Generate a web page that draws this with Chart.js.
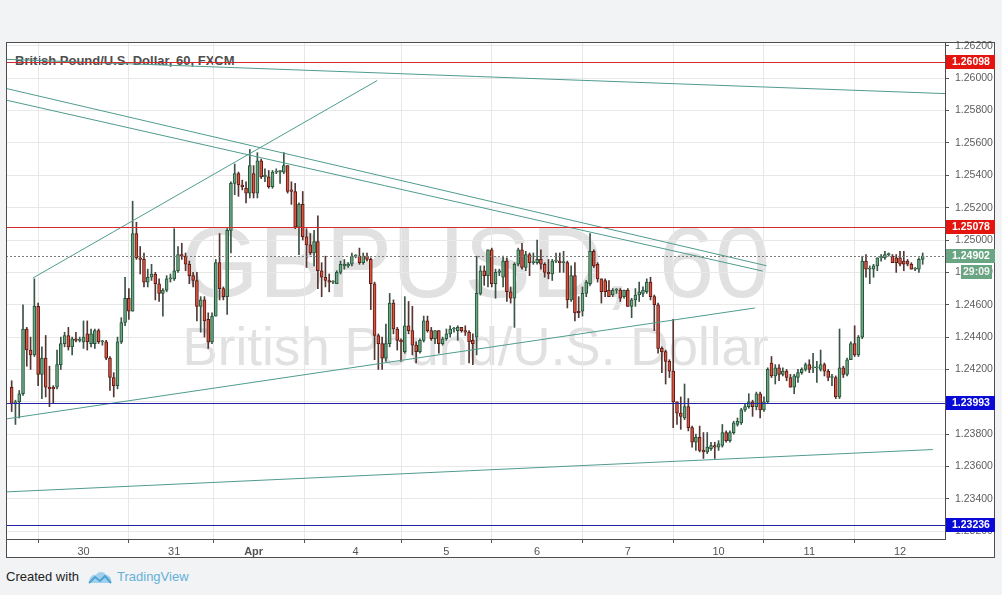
<!DOCTYPE html>
<html>
<head>
<meta charset="utf-8">
<title>GBPUSD, 60</title>
<script src="https://cdn.jsdelivr.net/npm/chart.js@4.4.0/dist/chart.umd.min.js"></script>
<style>
html, body { margin: 0; padding: 0; background: #f1f3f5; }
#wrap { position: relative; width: 1002px; height: 595px; overflow: hidden; font-family: "Liberation Sans", Arial, sans-serif; }
#box { position: absolute; left: 6px; top: 42px; width: 989px; height: 516px; background: #fff; }
.wm { position: absolute; left: 6px; width: 939px; text-align: center; color: #e1e1e1; white-space: nowrap; line-height: 1; }
#wm1 { top: 212px; font-size: 100px; }
#wm2 { top: 320px; font-size: 53px; }
#title { position: absolute; left: 15px; top: 54px; font-size: 13px; line-height: 13px; font-weight: bold; color: #4e4e4e; white-space: nowrap; }
#credit { position: absolute; left: 6px; top: 569px; font-size: 13px; line-height: 16px; color: #222; white-space: nowrap; }
#credit svg { position: absolute; left: 82px; top: 1px; }
#credit .tv { position: absolute; left: 111px; top: 0; color: #66b1d8; }
canvas { position: absolute; left: 0; top: 0; }
</style>
</head>
<body>
<div id="wrap">
  <div id="box"></div>
  <div class="wm" id="wm1">GBPUSD, 60</div>
  <div class="wm" id="wm2">British Pound/U.S. Dollar</div>
  <div id="title">British Pound/U.S. Dollar, 60, FXCM</div>
  <div id="credit">Created with
    <svg width="24" height="14" viewBox="0 0 24 14">
      <path d="M1 13 C1 7 5 4 8 5 C10 1 16 1 18 5 C22 5 24 9 23 13 Z" fill="#9fd0ec"/>
      <path d="M1 13 L7 7 L12 11 L17 6 L23 13" fill="none" stroke="#4fa3d3" stroke-width="2"/>
    </svg>
    <span class="tv">TradingView</span>
  </div>
  <canvas id="c" width="1002" height="595"></canvas>
</div>
<script>
// GBPUSD hourly candles, 29 Mar - 12 Apr (one value per bar)
const opens = [
  1.2409, 1.2399, 1.2400, 1.2405, 1.2445, 1.2432, 1.2429, 1.2459, 1.2417, 1.2427, 1.2409, 1.2409,
  1.2409, 1.2423, 1.2436, 1.2441, 1.2434, 1.2439, 1.2438, 1.2437, 1.2442, 1.2436, 1.2436, 1.2444,
  1.2437, 1.2437, 1.2427, 1.2415, 1.2410, 1.2437, 1.2449, 1.2464, 1.2456, 1.2504, 1.2489, 1.2488,
  1.2474, 1.2477, 1.2479, 1.2473, 1.2467, 1.2469, 1.2476, 1.2476, 1.2481, 1.2491, 1.2490, 1.2485,
  1.2478, 1.2475, 1.2459, 1.2463, 1.2451, 1.2437, 1.2453, 1.2486, 1.2470, 1.2465, 1.2506, 1.2535,
  1.2541, 1.2534, 1.2532, 1.2529, 1.2541, 1.2529, 1.2549, 1.2539, 1.2539, 1.2533, 1.2542, 1.2542,
  1.2542, 1.2546, 1.2531, 1.2530, 1.2508, 1.2522, 1.2502, 1.2497, 1.2492, 1.2499, 1.2481, 1.2477,
  1.2475, 1.2474, 1.2473, 1.2480, 1.2484, 1.2484, 1.2485, 1.2490, 1.2490, 1.2486, 1.2490, 1.2488,
  1.2473, 1.2441, 1.2436, 1.2427, 1.2436, 1.2461, 1.2445, 1.2438, 1.2431, 1.2447, 1.2444, 1.2435,
  1.2431, 1.2438, 1.2450, 1.2444, 1.2439, 1.2444, 1.2436, 1.2439, 1.2442, 1.2445, 1.2444, 1.2446,
  1.2444, 1.2443, 1.2438, 1.2440, 1.2467, 1.2481, 1.2478, 1.2494, 1.2473, 1.2480, 1.2477, 1.2487,
  1.2468, 1.2464, 1.2485, 1.2494, 1.2483, 1.2491, 1.2486, 1.2486, 1.2488, 1.2485, 1.2480, 1.2479,
  1.2487, 1.2487, 1.2486, 1.2486, 1.2463, 1.2478, 1.2456, 1.2456, 1.2467, 1.2473, 1.2493, 1.2485,
  1.2476, 1.2475, 1.2469, 1.2466, 1.2469, 1.2469, 1.2465, 1.2469, 1.2459, 1.2463, 1.2466, 1.2467,
  1.2468, 1.2474, 1.2465, 1.2460, 1.2433, 1.2431, 1.2425, 1.2419, 1.2400, 1.2393, 1.2390, 1.2397,
  1.2384, 1.2375, 1.2378, 1.2370, 1.2369, 1.2371, 1.2373, 1.2372, 1.2373, 1.2381, 1.2376, 1.2381,
  1.2386, 1.2387, 1.2395, 1.2397, 1.2400, 1.2397, 1.2405, 1.2395, 1.2400, 1.2424, 1.2416, 1.2421,
  1.2417, 1.2419, 1.2415, 1.2409, 1.2415, 1.2418, 1.2420, 1.2423, 1.2421, 1.2421, 1.2420, 1.2423,
  1.2419, 1.2415, 1.2415, 1.2403, 1.2421, 1.2417, 1.2426, 1.2436, 1.2429, 1.2440, 1.2487, 1.2482,
  1.2482, 1.2484, 1.2489, 1.2489, 1.2491, 1.2490, 1.2489, 1.2489, 1.2487, 1.2487, 1.2485, 1.2482,
  1.2482, 1.2488
];
const highs = [
  1.2413, 1.2401, 1.2407, 1.2460, 1.2446, 1.2440, 1.2476, 1.2461, 1.2434, 1.2441, 1.2422, 1.2410,
  1.2432, 1.2440, 1.2443, 1.2446, 1.2440, 1.2443, 1.2440, 1.2450, 1.2450, 1.2445, 1.2445, 1.2445,
  1.2438, 1.2438, 1.2428, 1.2418, 1.2440, 1.2452, 1.2477, 1.2470, 1.2524, 1.2511, 1.2496, 1.2492,
  1.2482, 1.2485, 1.2480, 1.2476, 1.2470, 1.2478, 1.2479, 1.2507, 1.2496, 1.2498, 1.2492, 1.2487,
  1.2480, 1.2480, 1.2465, 1.2465, 1.2455, 1.2455, 1.2488, 1.2504, 1.2471, 1.2507, 1.2536, 1.2547,
  1.2542, 1.2537, 1.2536, 1.2556, 1.2546, 1.2554, 1.2550, 1.2544, 1.2543, 1.2543, 1.2544, 1.2543,
  1.2554, 1.2546, 1.2536, 1.2535, 1.2523, 1.2530, 1.2507, 1.2504, 1.2506, 1.2515, 1.2486, 1.2490,
  1.2479, 1.2475, 1.2481, 1.2487, 1.2488, 1.2486, 1.2492, 1.2491, 1.2495, 1.2492, 1.2492, 1.2489,
  1.2474, 1.2442, 1.2440, 1.2448, 1.2467, 1.2463, 1.2446, 1.2439, 1.2465, 1.2462, 1.2459, 1.2437,
  1.2439, 1.2453, 1.2453, 1.2446, 1.2444, 1.2444, 1.2440, 1.2445, 1.2447, 1.2446, 1.2447, 1.2446,
  1.2447, 1.2444, 1.2442, 1.2490, 1.2484, 1.2484, 1.2494, 1.2495, 1.2482, 1.2482, 1.2490, 1.2489,
  1.2471, 1.2486, 1.2495, 1.2498, 1.2493, 1.2492, 1.2492, 1.2500, 1.2494, 1.2486, 1.2488, 1.2488,
  1.2492, 1.2492, 1.2493, 1.2487, 1.2484, 1.2486, 1.2465, 1.2471, 1.2475, 1.2504, 1.2494, 1.2486,
  1.2476, 1.2476, 1.2475, 1.2470, 1.2470, 1.2470, 1.2469, 1.2470, 1.2464, 1.2470, 1.2474, 1.2471,
  1.2476, 1.2477, 1.2466, 1.2461, 1.2434, 1.2432, 1.2426, 1.2451, 1.2400, 1.2403, 1.2411, 1.2402,
  1.2385, 1.2380, 1.2385, 1.2381, 1.2381, 1.2375, 1.2375, 1.2376, 1.2386, 1.2382, 1.2382, 1.2388,
  1.2390, 1.2396, 1.2399, 1.2405, 1.2401, 1.2406, 1.2406, 1.2403, 1.2421, 1.2428, 1.2423, 1.2423,
  1.2421, 1.2420, 1.2417, 1.2417, 1.2420, 1.2421, 1.2424, 1.2426, 1.2430, 1.2425, 1.2432, 1.2424,
  1.2420, 1.2417, 1.2416, 1.2445, 1.2422, 1.2427, 1.2437, 1.2447, 1.2441, 1.2490, 1.2491, 1.2484,
  1.2485, 1.2489, 1.2491, 1.2493, 1.2492, 1.2491, 1.2491, 1.2493, 1.2493, 1.2488, 1.2486, 1.2483,
  1.2489, 1.2492
];
const lows = [
  1.2394, 1.2386, 1.2390, 1.2404, 1.2422, 1.2420, 1.2428, 1.2410, 1.2402, 1.2403, 1.2397, 1.2399,
  1.2408, 1.2420, 1.2434, 1.2432, 1.2429, 1.2437, 1.2437, 1.2433, 1.2432, 1.2434, 1.2433, 1.2436,
  1.2435, 1.2426, 1.2407, 1.2403, 1.2408, 1.2436, 1.2447, 1.2451, 1.2456, 1.2488, 1.2479, 1.2471,
  1.2471, 1.2475, 1.2463, 1.2462, 1.2453, 1.2468, 1.2474, 1.2475, 1.2480, 1.2488, 1.2481, 1.2473,
  1.2471, 1.2450, 1.2443, 1.2440, 1.2433, 1.2436, 1.2453, 1.2463, 1.2463, 1.2454, 1.2492, 1.2528,
  1.2527, 1.2531, 1.2523, 1.2526, 1.2526, 1.2526, 1.2538, 1.2536, 1.2532, 1.2532, 1.2541, 1.2535,
  1.2541, 1.2529, 1.2522, 1.2507, 1.2491, 1.2500, 1.2483, 1.2491, 1.2484, 1.2470, 1.2465, 1.2471,
  1.2468, 1.2473, 1.2473, 1.2479, 1.2482, 1.2483, 1.2484, 1.2489, 1.2485, 1.2485, 1.2487, 1.2457,
  1.2426, 1.2420, 1.2420, 1.2425, 1.2434, 1.2442, 1.2432, 1.2425, 1.2430, 1.2442, 1.2429, 1.2424,
  1.2430, 1.2437, 1.2443, 1.2438, 1.2436, 1.2430, 1.2435, 1.2438, 1.2440, 1.2443, 1.2438, 1.2443,
  1.2441, 1.2424, 1.2423, 1.2429, 1.2466, 1.2472, 1.2471, 1.2471, 1.2464, 1.2478, 1.2471, 1.2462,
  1.2461, 1.2446, 1.2484, 1.2482, 1.2481, 1.2478, 1.2485, 1.2485, 1.2482, 1.2477, 1.2476, 1.2475,
  1.2486, 1.2480, 1.2480, 1.2458, 1.2462, 1.2450, 1.2452, 1.2453, 1.2465, 1.2472, 1.2483, 1.2474,
  1.2461, 1.2465, 1.2465, 1.2465, 1.2467, 1.2462, 1.2464, 1.2459, 1.2452, 1.2459, 1.2462, 1.2465,
  1.2467, 1.2463, 1.2444, 1.2430, 1.2418, 1.2411, 1.2415, 1.2384, 1.2386, 1.2383, 1.2389, 1.2382,
  1.2372, 1.2370, 1.2369, 1.2365, 1.2368, 1.2370, 1.2365, 1.2370, 1.2372, 1.2375, 1.2375, 1.2380,
  1.2385, 1.2386, 1.2394, 1.2396, 1.2391, 1.2395, 1.2390, 1.2394, 1.2399, 1.2415, 1.2411, 1.2413,
  1.2416, 1.2413, 1.2409, 1.2405, 1.2412, 1.2417, 1.2419, 1.2418, 1.2418, 1.2412, 1.2419, 1.2416,
  1.2413, 1.2410, 1.2402, 1.2402, 1.2415, 1.2416, 1.2426, 1.2428, 1.2428, 1.2439, 1.2477, 1.2473,
  1.2477, 1.2481, 1.2487, 1.2488, 1.2490, 1.2486, 1.2480, 1.2484, 1.2481, 1.2484, 1.2482, 1.2481,
  1.2480, 1.2485
];
const closes = [
  1.2399, 1.2400, 1.2405, 1.2445, 1.2432, 1.2429, 1.2459, 1.2417, 1.2427, 1.2409, 1.2408, 1.2408,
  1.2423, 1.2436, 1.2441, 1.2434, 1.2439, 1.2438, 1.2438, 1.2440, 1.2437, 1.2442, 1.2444, 1.2437,
  1.2437, 1.2427, 1.2415, 1.2410, 1.2437, 1.2449, 1.2464, 1.2456, 1.2504, 1.2489, 1.2488, 1.2474,
  1.2477, 1.2479, 1.2473, 1.2467, 1.2469, 1.2476, 1.2476, 1.2481, 1.2491, 1.2490, 1.2485, 1.2478,
  1.2475, 1.2459, 1.2463, 1.2450, 1.2437, 1.2453, 1.2486, 1.2470, 1.2465, 1.2506, 1.2535, 1.2541,
  1.2534, 1.2533, 1.2529, 1.2546, 1.2529, 1.2549, 1.2539, 1.2540, 1.2533, 1.2542, 1.2542, 1.2543,
  1.2546, 1.2530, 1.2530, 1.2508, 1.2522, 1.2502, 1.2497, 1.2492, 1.2499, 1.2481, 1.2477, 1.2475,
  1.2474, 1.2474, 1.2480, 1.2485, 1.2485, 1.2485, 1.2490, 1.2490, 1.2486, 1.2490, 1.2488, 1.2473,
  1.2441, 1.2436, 1.2427, 1.2436, 1.2461, 1.2445, 1.2438, 1.2437, 1.2447, 1.2444, 1.2435, 1.2431,
  1.2438, 1.2450, 1.2444, 1.2439, 1.2444, 1.2436, 1.2439, 1.2442, 1.2445, 1.2445, 1.2446, 1.2444,
  1.2443, 1.2437, 1.2436, 1.2467, 1.2481, 1.2478, 1.2494, 1.2473, 1.2480, 1.2481, 1.2487, 1.2468,
  1.2464, 1.2485, 1.2494, 1.2483, 1.2491, 1.2486, 1.2486, 1.2488, 1.2485, 1.2480, 1.2479, 1.2487,
  1.2487, 1.2486, 1.2486, 1.2463, 1.2478, 1.2455, 1.2455, 1.2467, 1.2474, 1.2493, 1.2484, 1.2476,
  1.2468, 1.2468, 1.2465, 1.2469, 1.2469, 1.2464, 1.2469, 1.2459, 1.2463, 1.2466, 1.2468, 1.2469,
  1.2474, 1.2465, 1.2460, 1.2433, 1.2431, 1.2425, 1.2419, 1.2400, 1.2393, 1.2391, 1.2397, 1.2384,
  1.2375, 1.2378, 1.2370, 1.2369, 1.2372, 1.2373, 1.2372, 1.2374, 1.2381, 1.2376, 1.2381, 1.2387,
  1.2388, 1.2395, 1.2397, 1.2400, 1.2397, 1.2405, 1.2395, 1.2400, 1.2420, 1.2416, 1.2421, 1.2417,
  1.2419, 1.2415, 1.2409, 1.2416, 1.2418, 1.2420, 1.2423, 1.2420, 1.2421, 1.2421, 1.2423, 1.2419,
  1.2415, 1.2415, 1.2403, 1.2421, 1.2417, 1.2426, 1.2436, 1.2429, 1.2440, 1.2487, 1.2482, 1.2482,
  1.2484, 1.2489, 1.2489, 1.2491, 1.2491, 1.2486, 1.2486, 1.2485, 1.2485, 1.2485, 1.2482, 1.2482,
  1.2488, 1.2490
];

// bottom axis: bar index where each day starts, and its label
const dayIndex  = [19, 43, 64, 91, 115, 139, 163, 187, 211, 235];
const dayLabels = ['30', '31', 'Apr', '4', '5', '6', '7', '10', '11', '12'];

// right axis
const priceTicks = [1.232, 1.234, 1.236, 1.238, 1.240, 1.242, 1.244, 1.246, 1.248, 1.250,
                    1.252, 1.254, 1.256, 1.258, 1.260, 1.262];

// drawn levels
const resistLevels = [1.26098, 1.25078];
const supportLevels = [1.23993, 1.23236];
const lastPrice = 1.24902;
const countdown = '29:09';

// trend lines: [bar index, price, bar index, price]
const trendLines = [
  [-1.5, 1.26117, 246.9, 1.25905],
  [-1.5, 1.25937, 199.7, 1.24841],
  [-1.5, 1.25865, 198.7, 1.24808],
  [5.6, 1.24765, 96.7, 1.25986],
  [-1.5, 1.23894, 196.6, 1.24580],
  [-1.5, 1.23443, 243.7, 1.23705]
];

const X_MIN = -1.5, X_MAX = 246.9;
const Y_MIN = 1.23152, Y_MAX = 1.26224;
const FONT = '"Liberation Sans", Arial, sans-serif';

const UP = '#6ba583', DOWN = '#d75442', UP_BORDER = '#225437', DOWN_BORDER = '#5b1a13';
const idx = opens.map((_, i) => i);
const isUp = i => closes[i] >= opens[i];

const datasets = [
  // candle bodies
  {
    data: idx.map(i => ({ x: i, y: [Math.min(opens[i], closes[i]), Math.max(opens[i], closes[i])] })),
    backgroundColor: idx.map(i => isUp(i) ? UP : DOWN),
    borderColor: idx.map(i => isUp(i) ? UP_BORDER : DOWN_BORDER),
    borderWidth: 1,
    borderSkipped: false,
    barThickness: 3,
    minBarLength: 1,
    grouped: false,
    order: 1
  },
  // wicks
  {
    data: idx.map(i => ({ x: i, y: [lows[i], highs[i]] })),
    backgroundColor: idx.map(i => isUp(i) ? '#3a5446' : '#553632'),
    barThickness: 1,
    grouped: false,
    order: 2
  }
];

trendLines.forEach(t => datasets.push({
  type: 'line',
  data: [{ x: t[0], y: t[1] }, { x: t[2], y: t[3] }],
  borderColor: '#4f9c8f',
  borderWidth: 1,
  pointRadius: 0,
  fill: false,
  order: 0
}));

// horizontal levels drawn crisp on whole pixels, above the candles
const levelLines = {
  id: 'levelLines',
  afterDatasetsDraw(chart) {
    const g = chart.ctx, y = chart.scales.y, a = chart.chartArea;
    const line = (v, color) => {
      const py = Math.round(y.getPixelForValue(v));
      g.save();
      g.fillStyle = color;
      g.fillRect(a.left, py, a.right - a.left, 1);
      g.restore();
    };
    resistLevels.forEach(v => line(v, '#d42a2e'));
    supportLevels.forEach(v => line(v, '#2323a8'));

    // dotted last-price line
    const py = Math.round(y.getPixelForValue(lastPrice)) + 0.5;
    g.save();
    g.strokeStyle = '#7a7a7a';
    g.lineWidth = 1;
    g.setLineDash([2, 2]);
    g.beginPath();
    g.moveTo(a.left, py);
    g.lineTo(a.right, py);
    g.stroke();
    g.restore();
  }
};

// price tags on the right axis + outer frame
const axisTags = {
  id: 'axisTags',
  afterDraw(chart) {
    const g = chart.ctx;
    const y = chart.scales.y;
    g.save();
    g.strokeStyle = '#4d4d4d';
    g.lineWidth = 1;
    g.strokeRect(6.5, 42.5, 988, 515);

    const tag = (v, bg, text) => {
      const py = Math.round(y.getPixelForValue(v));
      g.fillStyle = bg;
      g.fillRect(946, py - 7, 49, 14);
      g.fillStyle = '#fff';
      g.font = 'bold 10.5px ' + FONT;
      g.textBaseline = 'middle';
      g.fillText(text, 952, py + 0.5);
      return py;
    };
    resistLevels.forEach(v => tag(v, '#e4150f', v.toFixed(5)));
    supportLevels.forEach(v => tag(v, '#0a0ad6', v.toFixed(5)));
    const py = tag(lastPrice, '#6aa583', lastPrice.toFixed(5));
    g.fillStyle = '#6aa583';
    g.fillRect(961, py + 9, 31, 14);
    g.fillStyle = '#f2f2f2';
    g.font = 'bold 10.5px ' + FONT;
    g.fillText(countdown, 963, py + 16.5);
    g.restore();
  }
};

new Chart(document.getElementById('c'), {
  type: 'bar',
  data: { datasets },
  options: {
    responsive: false,
    animation: false,
    events: [],
    layout: { padding: { left: 6, top: 42, right: 7, bottom: 37 } },
    plugins: { legend: { display: false }, tooltip: { enabled: false } },
    scales: {
      x: {
        type: 'linear',
        min: X_MIN,
        max: X_MAX,
        offset: false,
        afterBuildTicks: s => { s.ticks = dayIndex.map(v => ({ value: v })); },
        afterFit: s => { s.height = 19; },
        ticks: {
          autoSkip: false,
          maxRotation: 0,
          padding: 2,
          color: '#555',
          font: c => ({ family: FONT, size: 11, weight: (c.tick && c.tick.value === 64) ? 'bold' : 'normal' }),
          callback: (v, i) => dayLabels[i]
        },
        grid: { color: '#e8e8e8', tickColor: '#555', tickLength: 4 },
        border: { display: true, color: '#4d4d4d' }
      },
      y: {
        position: 'right',
        min: Y_MIN,
        max: Y_MAX,
        afterBuildTicks: s => { s.ticks = priceTicks.map(v => ({ value: v })); },
        afterFit: s => { s.width = 50; },
        ticks: {
          padding: 6,
          color: '#5d5d5d',
          font: { family: FONT, size: 10.5 },
          callback: v => v.toFixed(5)
        },
        grid: { color: '#e8e8e8', tickColor: '#555', tickLength: 4 },
        border: { display: true, color: '#4d4d4d' }
      }
    }
  },
  plugins: [levelLines, axisTags]
});
</script>
</body>
</html>
